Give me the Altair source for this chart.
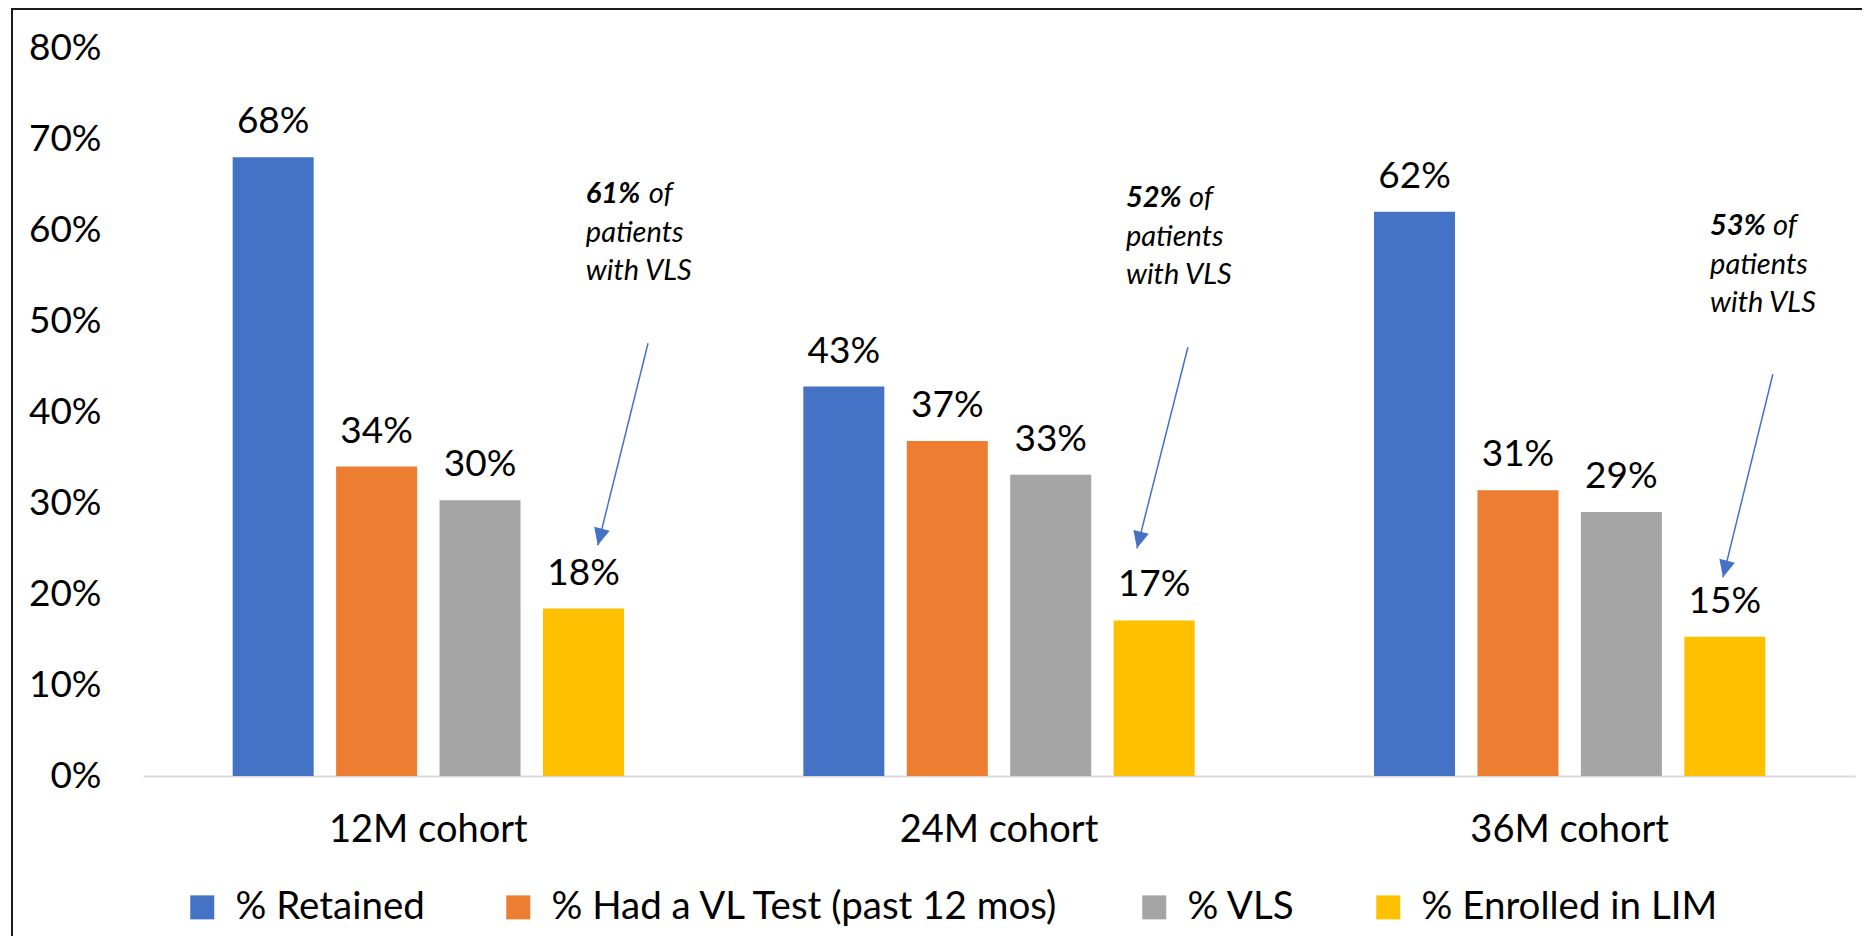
import altair as alt
import pandas as pd

# ---------------- data ----------------
cohorts = ["12M cohort", "24M cohort", "36M cohort"]
series = ["% Retained", "% Had a VL Test (past 12 mos)", "% VLS", "% Enrolled in LIM"]
colors = ["#4472C4", "#ED7D31", "#A5A5A5", "#FFC000"]

retained = [0.68, 0.428, 0.62]
had_vl_test = [0.34, 0.368, 0.314]
vls = [0.303, 0.331, 0.29]
enrolled_lim = [0.184, 0.171, 0.153]

y_ticks = [0.0, 0.1, 0.2, 0.3, 0.4, 0.5, 0.6, 0.7, 0.8]

# annotations ("x" in cohort units measured from the plot's left edge)
ann_pct = ["61%", "52%", "53%"]
ann_rest = [["patients", "with VLS"]] * 3
ann_x = [0.776, 1.7225, 2.746]
ann_y = [0.6295, 0.6254, 0.595]
arrow_x = [0.885, 1.831, 2.856]
arrow_y = [0.4756, 0.4712, 0.4415]
arrow_x2 = [0.797, 1.7418, 2.7687]
arrow_y2 = [0.2536, 0.2502, 0.2184]

# ---------------- tables ----------------
rows = []
for i, c in enumerate(cohorts):
    for s, vals in zip(series, [retained, had_vl_test, vls, enrolled_lim]):
        rows.append({"cohort": c, "series": s, "value": vals[i]})
df = pd.DataFrame(rows)

df_ann = pd.DataFrame({"ax": ann_x, "ay": ann_y, "pct": ann_pct, "rest": ann_rest})
df_arrow = pd.DataFrame({"x1": arrow_x, "y1": arrow_y, "x2": arrow_x2, "y2": arrow_y2})

W, H = 1712, 728
FONT = "Lato"
BLUE = "#4472C4"

y_scale = alt.Scale(domain=[0, 0.8], nice=False, zero=True)
y_axis = alt.Axis(title=None, format=".0%", values=y_ticks, labelFont=FONT,
                  labelFontSize=37, labelColor="#000", labelPadding=42,
                  ticks=False, tickSize=0, domain=False, grid=False)

bars = alt.Chart(df).mark_bar().encode(
    x=alt.X("cohort:N", sort=cohorts,
            scale=alt.Scale(paddingInner=0, paddingOuter=0),
            axis=alt.Axis(title=None, labelAngle=0, labelFont=FONT, labelFontSize=38,
                          labelColor="#000", labelPadding=35, labelLimit=0,
                          ticks=False, tickSize=0,
                          domainColor="#D9D9D9", domainWidth=2, grid=False)),
    xOffset=alt.XOffset("series:N", sort=series,
                        scale=alt.Scale(paddingInner=0.217, paddingOuter=0.867)),
    y=alt.Y("value:Q", scale=y_scale, axis=y_axis),
    color=alt.Color("series:N", sort=series,
                    scale=alt.Scale(domain=series, range=colors),
                    legend=alt.Legend(title=None, orient="none", legendX=40, legendY=840,
                                      direction="horizontal", columns=4,
                                      symbolType="square", symbolSize=576,
                                      symbolStrokeWidth=0, labelFont=FONT,
                                      labelFontSize=38.5, labelColor="#000",
                                      labelOffset=14, columnPadding=74, padding=0,
                                      labelLimit=0)),
)

labels = alt.Chart(df).mark_text(font=FONT, fontSize=37, baseline="alphabetic",
                                 dy=-24, color="#000").encode(
    x=alt.X("cohort:N", sort=cohorts),
    xOffset=alt.XOffset("series:N", sort=series),
    y=alt.Y("value:Q", scale=y_scale, axis=y_axis),
    text=alt.Text("value:Q", format=".0%"),
)

base = alt.layer(bars, labels)

ax_scale = alt.Scale(domain=[0, 3], nice=False, zero=False)
ANN_SIZE = 29

ann_bold = alt.Chart(df_ann).mark_text(font=FONT, fontSize=ANN_SIZE, fontStyle="italic",
                                       fontWeight="bold", align="left",
                                       baseline="alphabetic", color="#000").encode(
    x=alt.X("ax:Q", scale=ax_scale, axis=None),
    y=alt.Y("ay:Q", scale=y_scale, axis=y_axis),
    text="pct:N",
)
ann_of = alt.Chart(df_ann).mark_text(font=FONT, fontSize=ANN_SIZE, fontStyle="italic",
                                     align="left", baseline="alphabetic", dx=63,
                                     color="#000", text="of").encode(
    x=alt.X("ax:Q", scale=ax_scale, axis=None),
    y=alt.Y("ay:Q", scale=y_scale, axis=y_axis),
)
ann_lines = alt.Chart(df_ann).mark_text(font=FONT, fontSize=ANN_SIZE, fontStyle="italic",
                                        align="left", baseline="alphabetic", dy=39,
                                        lineHeight=38, color="#000").encode(
    x=alt.X("ax:Q", scale=ax_scale, axis=None),
    y=alt.Y("ay:Q", scale=y_scale, axis=y_axis),
    text="rest",
)
arrows = alt.Chart(df_arrow).mark_rule(color=BLUE, strokeWidth=1.5).encode(
    x=alt.X("x1:Q", scale=ax_scale, axis=None),
    y=alt.Y("y1:Q", scale=y_scale, axis=y_axis),
    x2="x2:Q",
    y2="y2:Q",
)
heads = alt.Chart(df_arrow).mark_point(shape="M0,0 L-0.8,-1.7 L0.8,-1.7 Z", filled=True,
                                       size=400, angle=14, color=BLUE, opacity=1,
                                       strokeWidth=0).encode(
    x=alt.X("x2:Q", scale=ax_scale, axis=None),
    y=alt.Y("y2:Q", scale=y_scale, axis=y_axis),
)
ann = alt.layer(ann_bold, ann_of, ann_lines, arrows, heads)

frame = alt.Chart(pd.DataFrame({"k": [0]})).mark_rect(
    fillOpacity=0, stroke="#1a1a1a", strokeWidth=2).encode(
    x=alt.value(-131), x2=alt.value(W + 300), y=alt.value(-39), y2=alt.value(H + 400)
)

chart = alt.layer(base, ann, frame).resolve_scale(x="independent").properties(
    width=W, height=H,
    autosize=alt.AutoSizeParams(type="none"),
    padding={"left": 135, "top": 40, "right": 7, "bottom": 160},
).configure(font=FONT).configure_view(strokeWidth=0, stroke="transparent")

chart.save("out.html", embed_options={"renderer": "svg", "actions": False})
